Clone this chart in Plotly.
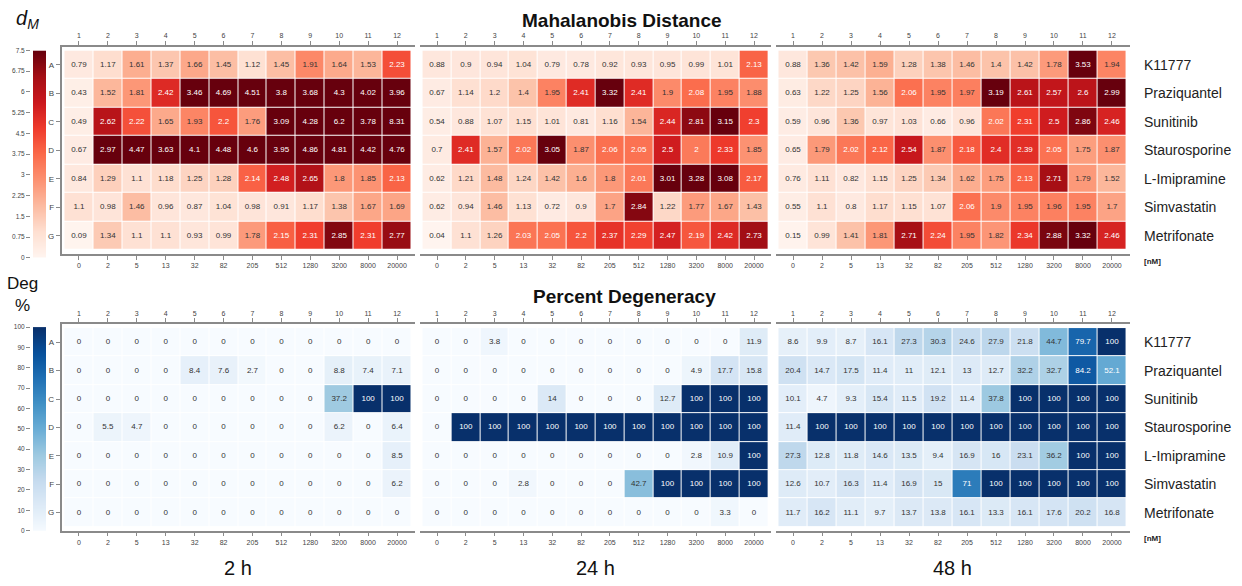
import plotly.graph_objects as go

# ---------------- data ----------------
conc = ["0", "2", "5", "13", "32", "82", "205", "512", "1280", "3200", "8000", "20000"]
wells = ["1", "2", "3", "4", "5", "6", "7", "8", "9", "10", "11", "12"]
rows = ["A", "B", "C", "D", "E", "F", "G"]
drugs = ["K11777", "Praziquantel", "Sunitinib", "Staurosporine", "L-Imipramine", "Simvastatin", "Metrifonate"]
times = ["2 h", "24 h", "48 h"]

dm_2h = [
    [0.79, 1.17, 1.61, 1.37, 1.66, 1.45, 1.12, 1.45, 1.91, 1.64, 1.53, 2.23],
    [0.43, 1.52, 1.81, 2.42, 3.46, 4.69, 4.51, 3.8, 3.68, 4.3, 4.02, 3.96],
    [0.49, 2.62, 2.22, 1.65, 1.93, 2.2, 1.76, 3.09, 4.28, 6.2, 3.78, 8.31],
    [0.67, 2.97, 4.47, 3.63, 4.1, 4.48, 4.6, 3.95, 4.86, 4.81, 4.42, 4.76],
    [0.84, 1.29, 1.1, 1.18, 1.25, 1.28, 2.14, 2.48, 2.65, 1.8, 1.85, 2.13],
    [1.1, 0.98, 1.46, 0.96, 0.87, 1.04, 0.98, 0.91, 1.17, 1.38, 1.67, 1.69],
    [0.09, 1.34, 1.1, 1.1, 0.93, 0.99, 1.78, 2.15, 2.31, 2.85, 2.31, 2.77],
]
dm_24h = [
    [0.88, 0.9, 0.94, 1.04, 0.79, 0.78, 0.92, 0.93, 0.95, 0.99, 1.01, 2.13],
    [0.67, 1.14, 1.2, 1.4, 1.95, 2.41, 3.32, 2.41, 1.9, 2.08, 1.95, 1.88],
    [0.54, 0.88, 1.07, 1.15, 1.01, 0.81, 1.16, 1.54, 2.44, 2.81, 3.15, 2.3],
    [0.7, 2.41, 1.57, 2.02, 3.05, 1.87, 2.06, 2.05, 2.5, 2, 2.33, 1.85],
    [0.62, 1.21, 1.48, 1.24, 1.42, 1.6, 1.8, 2.01, 3.01, 3.28, 3.08, 2.17],
    [0.62, 0.94, 1.46, 1.13, 0.72, 0.9, 1.7, 2.84, 1.22, 1.77, 1.67, 1.43],
    [0.04, 1.1, 1.26, 2.03, 2.05, 2.2, 2.37, 2.29, 2.47, 2.19, 2.42, 2.73],
]
dm_48h = [
    [0.88, 1.36, 1.42, 1.59, 1.28, 1.38, 1.46, 1.4, 1.42, 1.78, 3.53, 1.94],
    [0.63, 1.22, 1.25, 1.56, 2.06, 1.95, 1.97, 3.19, 2.61, 2.57, 2.6, 2.99],
    [0.59, 0.96, 1.36, 0.97, 1.03, 0.66, 0.96, 2.02, 2.31, 2.5, 2.86, 2.46],
    [0.65, 1.79, 2.02, 2.12, 2.54, 1.87, 2.18, 2.4, 2.39, 2.05, 1.75, 1.87],
    [0.76, 1.11, 0.82, 1.15, 1.25, 1.34, 1.62, 1.75, 2.13, 2.71, 1.79, 1.52],
    [0.55, 1.1, 0.8, 1.17, 1.15, 1.07, 2.06, 1.9, 1.95, 1.96, 1.95, 1.7],
    [0.15, 0.99, 1.41, 1.81, 2.71, 2.24, 1.95, 1.82, 2.34, 2.88, 3.32, 2.46],
]
deg_2h = [
    [0, 0, 0, 0, 0, 0, 0, 0, 0, 0, 0, 0],
    [0, 0, 0, 0, 8.4, 7.6, 2.7, 0, 0, 8.8, 7.4, 7.1],
    [0, 0, 0, 0, 0, 0, 0, 0, 0, 37.2, 100, 100],
    [0, 5.5, 4.7, 0, 0, 0, 0, 0, 0, 6.2, 0, 6.4],
    [0, 0, 0, 0, 0, 0, 0, 0, 0, 0, 0, 8.5],
    [0, 0, 0, 0, 0, 0, 0, 0, 0, 0, 0, 6.2],
    [0, 0, 0, 0, 0, 0, 0, 0, 0, 0, 0, 0],
]
deg_24h = [
    [0, 0, 3.8, 0, 0, 0, 0, 0, 0, 0, 0, 11.9],
    [0, 0, 0, 0, 0, 0, 0, 0, 0, 4.9, 17.7, 15.8],
    [0, 0, 0, 0, 14, 0, 0, 0, 12.7, 100, 100, 100],
    [0, 100, 100, 100, 100, 100, 100, 100, 100, 100, 100, 100],
    [0, 0, 0, 0, 0, 0, 0, 0, 0, 2.8, 10.9, 100],
    [0, 0, 0, 2.8, 0, 0, 0, 42.7, 100, 100, 100, 100],
    [0, 0, 0, 0, 0, 0, 0, 0, 0, 0, 3.3, 0],
]
deg_48h = [
    [8.6, 9.9, 8.7, 16.1, 27.3, 30.3, 24.6, 27.9, 21.8, 44.7, 79.7, 100],
    [20.4, 14.7, 17.5, 11.4, 11, 12.1, 13, 12.7, 32.2, 32.7, 84.2, 52.1],
    [10.1, 4.7, 9.3, 15.4, 11.5, 19.2, 11.4, 37.8, 100, 100, 100, 100],
    [11.4, 100, 100, 100, 100, 100, 100, 100, 100, 100, 100, 100],
    [27.3, 12.8, 11.8, 14.6, 13.5, 9.4, 16.9, 16, 23.1, 36.2, 100, 100],
    [12.6, 10.7, 16.3, 11.4, 16.9, 15, 71, 100, 100, 100, 100, 100],
    [11.7, 16.2, 11.1, 9.7, 13.7, 13.8, 16.1, 13.3, 16.1, 17.6, 20.2, 16.8],
]

dm_scale = [0, 7.5]
deg_scale = [0, 100]
dm_ticks = [0, 0.75, 1.5, 2.25, 3, 3.75, 4.5, 5.25, 6, 6.75, 7.5]
deg_ticks = [0, 10, 20, 30, 40, 50, 60, 70, 80, 90, 100]

# ---------------- styling ----------------
W, H = 1242, 586
FONT = "Liberation Sans, Arial, sans-serif"
AXC = "#8a8a8a"
TXC = "#333333"

reds = [
    [0.0, "rgb(255,245,240)"], [0.125, "rgb(254,224,210)"], [0.25, "rgb(252,187,161)"],
    [0.375, "rgb(252,146,114)"], [0.5, "rgb(251,106,74)"], [0.625, "rgb(239,59,44)"],
    [0.75, "rgb(203,24,29)"], [0.875, "rgb(165,15,21)"], [1.0, "rgb(103,0,13)"],
]
blues = [
    [0.0, "rgb(247,251,255)"], [0.125, "rgb(222,235,247)"], [0.25, "rgb(198,219,239)"],
    [0.375, "rgb(158,202,225)"], [0.5, "rgb(107,174,214)"], [0.625, "rgb(66,146,198)"],
    [0.75, "rgb(33,113,181)"], [0.875, "rgb(8,81,156)"], [1.0, "rgb(8,48,107)"],
]
# cell colour mapping for the dM heatmaps (saturates near 3)
DM_ZMAX = 2.95
dm_stops = [
    (0.0, "rgb(255,245,240)"), (0.8, "rgb(254,233,224)"), (1.15, "rgb(254,224,210)"),
    (1.4, "rgb(252,195,170)"), (1.6, "rgb(252,175,145)"), (1.85, "rgb(252,146,114)"),
    (2.1, "rgb(251,106,74)"), (2.32, "rgb(239,59,44)"), (2.52, "rgb(203,24,29)"),
    (2.72, "rgb(165,15,21)"), (2.95, "rgb(103,0,13)"),
]
dm_cells_scale = [[v / DM_ZMAX, c] for v, c in dm_stops]


def px_x(x):
    return x / W


def px_y(y):
    return 1 - y / H


panel_x = [(61.5, 414.5), (419.6, 771.4), (775.5, 1129.5)]
panel_y = [(43.3, 253.1), (324.0, 533.0)]
xr = [-0.5 - 3.0 / 28.9, 11.5 + 3.0 / 28.9]
yr = [6.5 + 4.0 / 28.8, -0.5 - 4.0 / 28.8]

panels = [
    (dm_2h, "dm"), (dm_24h, "dm"), (dm_48h, "dm"),
    (deg_2h, "deg"), (deg_24h, "deg"), (deg_48h, "deg"),
]

fig = go.Figure()
layout = dict(
    width=W, height=H, margin=dict(l=0, r=0, t=0, b=0),
    paper_bgcolor="white", plot_bgcolor="white", showlegend=False,
    font=dict(family=FONT, color=TXC),
)
annotations = []

axis_common = dict(
    showgrid=False, zeroline=False, showline=True, linecolor=AXC, linewidth=1.5,
    ticks="outside", ticklen=4, tickwidth=1, tickcolor=AXC,
    tickfont=dict(size=7, family=FONT, color="#444"), fixedrange=True,
)

for p, (vals, kind) in enumerate(panels):
    r, c = divmod(p, 3)
    xa, ya, xt = p + 1, p + 1, p + 7
    if kind == "dm":
        cs, zmin, zmax, thr = dm_cells_scale, 0, DM_ZMAX, 2.0
    else:
        cs, zmin, zmax, thr = blues, deg_scale[0], deg_scale[1], 50
    fig.add_trace(go.Heatmap(
        x=conc, y=rows, z=vals, colorscale=cs, zmin=zmin, zmax=zmax,
        showscale=False, xgap=1, ygap=1, hoverinfo="z",
        xaxis=f"x{xa}", yaxis=f"y{ya}",
    ))
    for light in (False, True):
        tx, ty, tt = [], [], []
        for i, rw in enumerate(rows):
            for j, wl in enumerate(wells):
                v = vals[i][j]
                if (v >= thr) == light:
                    tx.append(wl)
                    ty.append(rw)
                    tt.append(f"{v:g}")
        fig.add_trace(go.Scatter(
            x=tx, y=ty, text=tt, mode="text", hoverinfo="skip",
            textfont=dict(size=8, family=FONT, color="white" if light else "#333333"),
            xaxis=f"x{xt}", yaxis=f"y{ya}",
        ))

    dx = [px_x(panel_x[c][0]), px_x(panel_x[c][1])]
    dy = [px_y(panel_y[r][1]), px_y(panel_y[r][0])]
    layout[f"xaxis{xa}"] = dict(
        axis_common, domain=dx, anchor=f"y{ya}", type="category",
        categoryorder="array", categoryarray=conc, tickmode="array",
        tickvals=conc, ticktext=conc, range=xr, side="bottom",
    )
    layout[f"xaxis{xt}"] = dict(
        axis_common, overlaying=f"x{xa}", anchor=f"y{ya}", type="category",
        categoryorder="array", categoryarray=wells, tickmode="array",
        tickvals=wells, ticktext=wells, range=xr, side="top",
    )
    ydict = dict(
        axis_common, domain=dy, anchor=f"x{xa}", type="category",
        categoryorder="array", categoryarray=rows, tickmode="array",
        tickvals=rows, ticktext=rows, range=yr,
    )
    ydict["tickfont"] = dict(size=8, family=FONT, color="#444")
    if c != 0:
        ydict.update(showline=False, ticks="", showticklabels=False)
    layout[f"yaxis{ya}"] = ydict

    if c == 2:
        for i, d in enumerate(drugs):
            annotations.append(dict(
                xref="paper", yref=f"y{ya}", x=px_x(1142), y=i, text=d,
                showarrow=False, xanchor="left", yanchor="middle",
                font=dict(size=14, family=FONT, color="#222222"),
            ))
        annotations.append(dict(
            xref="paper", yref="paper", x=px_x(1142), y=px_y(panel_y[r][1] + 8),
            text="<b>[nM]</b>", showarrow=False, xanchor="left", yanchor="middle",
            font=dict(size=8, family=FONT, color="#222222"),
        ))

# ---------------- colour bars (left) ----------------
bars = [
    (dm_scale, dm_ticks, reds, 13, (47, 257)),
    (deg_scale, deg_ticks, blues, 14, (327, 533)),
]
for scale, ticks, cs, k, (yt, yb) in bars:
    fig.add_trace(go.Heatmap(
        x=[0, 1], y=scale, z=[[scale[0], scale[0]], [scale[1], scale[1]]],
        colorscale=cs, zmin=scale[0], zmax=scale[1], zsmooth="best",
        showscale=False, hoverinfo="skip", xaxis=f"x{k}", yaxis=f"y{k}",
    ))
    layout[f"xaxis{k}"] = dict(domain=[px_x(33), px_x(46)], anchor=f"y{k}",
                               range=[0, 1], visible=False, fixedrange=True)
    layout[f"yaxis{k}"] = dict(
        domain=[px_y(yb), px_y(yt)], anchor="free", position=px_x(30), side="left",
        range=scale, tickmode="array", tickvals=ticks,
        ticktext=[f"{t:g}" for t in ticks], showgrid=False, zeroline=False,
        showline=False, ticks="outside", ticklen=4, tickcolor=AXC,
        tickfont=dict(size=6.5, family=FONT, color="#444"), fixedrange=True,
    )

# ---------------- titles & labels ----------------
annotations += [
    dict(xref="paper", yref="paper", x=px_x(622), y=px_y(17), text="<b>Mahalanobis Distance</b>",
         showarrow=False, xanchor="center", yanchor="middle",
         font=dict(size=19, family=FONT, color="#111111")),
    dict(xref="paper", yref="paper", x=px_x(624), y=px_y(296), text="<b>Percent Degeneracy</b>",
         showarrow=False, xanchor="center", yanchor="middle",
         font=dict(size=19, family=FONT, color="#111111")),
    dict(xref="paper", yref="paper", x=px_x(27), y=px_y(16), text="<i>d</i><sub><i>M</i></sub>",
         showarrow=False, xanchor="center", yanchor="middle",
         font=dict(size=20, family=FONT, color="#111111")),
    dict(xref="paper", yref="paper", x=px_x(22), y=px_y(294), text="Deg<br>%",
         showarrow=False, xanchor="center", yanchor="middle",
         font=dict(size=17, family=FONT, color="#111111")),
]
for c, t in enumerate(times):
    cx = (panel_x[c][0] + panel_x[c][1]) / 2
    annotations.append(dict(
        xref="paper", yref="paper", x=px_x(cx), y=px_y(571), text=t,
        showarrow=False, xanchor="center", yanchor="middle",
        font=dict(size=20, family="Liberation Sans Narrow, Arial Narrow, " + FONT, color="#111111"),
    ))

layout["annotations"] = annotations
fig.update_layout(**layout)
fig.write_html("out.html")
